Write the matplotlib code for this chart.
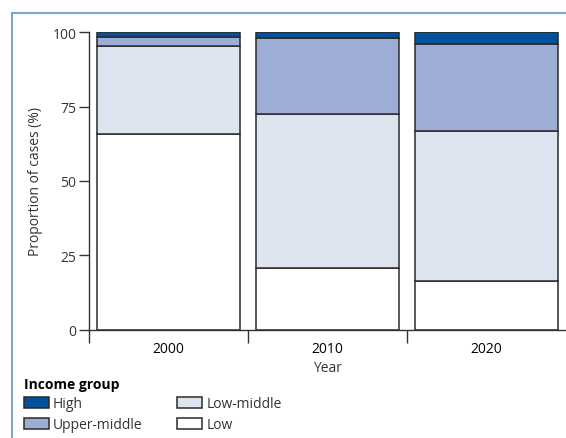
import matplotlib.pyplot as plt
from matplotlib.lines import Line2D
import numpy as np

plt.rcParams['font.family'] = ['Open Sans', 'DejaVu Sans']

# data (proportions, %)
years = ['2000', '2010', '2020']
groups = ['Low', 'Low-middle', 'Upper-middle', 'High']
low = [65.8, 20.7, 16.4]
low_middle = [29.7, 51.8, 50.5]
upper_middle = [2.8, 25.6, 29.3]
high = [1.7, 1.9, 3.8]
colors = ['#ffffff', '#dde3ef', '#9eadd5', '#00529b']

fig = plt.figure(figsize=(5.66, 4.39), dpi=100)
ax = fig.add_axes([89 / 566, (439 - 330.5) / 439, (566 - 89) / 566, 297.2 / 439])

x = np.arange(len(years))
bottom = np.zeros(len(years))
for vals, name, c in zip([low, low_middle, upper_middle, high], groups, colors):
    ax.bar(x, vals, width=0.9, bottom=bottom, color=c, edgecolor='#2a2a2a',
           linewidth=1.1, label=name)
    bottom += np.array(vals)

ax.set_xlim(-0.5, 2.5)
ax.set_ylim(0, 100)
ax.set_yticks([0, 25, 50, 75, 100])
ax.set_xticks([-0.5, 0.5, 1.5])
ax.set_xticklabels([])
ax.set_xticks(x, minor=True)
ax.set_xticklabels(years, minor=True)
ax.tick_params(axis='x', which='major', length=9, width=1, color='#333333')
ax.tick_params(axis='x', which='minor', length=0, pad=8)
ax.tick_params(axis='y', length=7, width=1, color='#333333', pad=2)
ax.tick_params(labelsize=10, labelcolor='#333333')

for s in ['top', 'right']:
    ax.spines[s].set_visible(False)
for s in ['left', 'bottom']:
    ax.spines[s].set_color('#333333')
    ax.spines[s].set_linewidth(1)

ax.set_xlabel('Year', fontsize=10, color='#333333', labelpad=3)
ax.set_ylabel('Proportion of cases (%)', fontsize=10, color='#333333', labelpad=7)

# legend
h, l = ax.get_legend_handles_labels()
order = [3, 2, 1, 0]
leg = fig.legend([h[i] for i in order], [l[i] for i in order], ncol=2,
                 loc='upper left', bbox_to_anchor=(18 / 566, 1 - 372 / 439),
                 frameon=False, fontsize=10, title='Income group',
                 handlelength=1.8, handleheight=0.9, handletextpad=0.3,
                 columnspacing=2.5, labelspacing=0.42, borderaxespad=0)
leg.get_title().set_fontweight('bold')
leg.get_title().set_fontsize(10)
leg._legend_box.align = 'left'
for t in leg.get_texts():
    t.set_color('#333333')

# panel frame
fig.add_artist(Line2D([11.5 / 566, 11.5 / 566], [0, 1 - 14 / 439],
                      transform=fig.transFigure, color='#7fa7d2', lw=1.5))
fig.add_artist(Line2D([11.5 / 566, 1], [1 - 14 / 439, 1 - 14 / 439],
                      transform=fig.transFigure, color='#7fa7d2', lw=1.5))

fig.savefig('out.png', dpi=100)
